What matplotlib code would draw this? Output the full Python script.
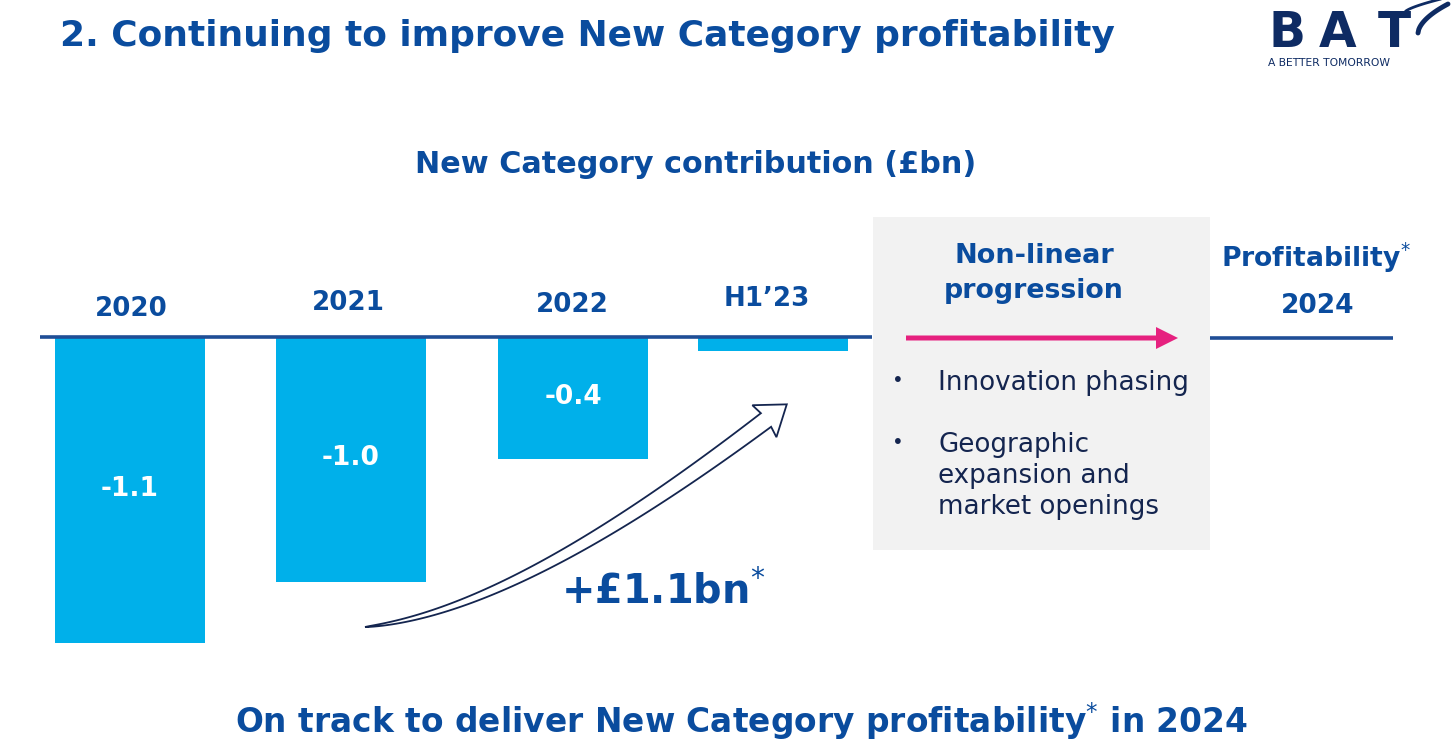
import matplotlib
matplotlib.use("Agg")
import matplotlib.pyplot as plt
import numpy as np
from matplotlib.patches import Rectangle, Polygon, FancyArrow

# ---------------- data ----------------
periods = ["2020", "2021", "2022", "H1\u201923"]
contribution = [-1.1, -0.88, -0.44, -0.05]      # bar heights as drawn (£bn)
value_labels = ["-1.1", "-1.0", "-0.4", ""]
drivers = ["Innovation phasing", "Geographic\nexpansion and\nmarket openings"]

# ---------------- layout ----------------
slots = [0.0, 1.031, 2.067, 3.0]   # horizontal slot of each period (slide spacing)

# ---------------- colours ----------------
NAVY = "#0A4C9E"
DARK = "#14254F"
BAR = "#00B0EA"
LINE = "#1F4E96"
PINK = "#E6217F"
GREY = "#F2F2F2"
LOGO = "#0E2B63"

W, H = 1456, 745
fig = plt.figure(figsize=(W / 100, H / 100), dpi=100)
fig.patch.set_facecolor("white")

# ---------------- bar axes ----------------
ax = fig.add_axes([40 / W, (H - 660) / H, 832 / W, 360 / H])
ax.axis("off")
ax.bar(slots, contribution, width=0.70, color=BAR, zorder=1)
ax.set_xlim(-0.42, 3.462)
ax.set_ylim(-(660 - 337) / 278.2, (337 - 300) / 278.2)
ax.axhline(0, color=LINE, lw=2.6, zorder=3)
for xi, v, lab in zip(slots, contribution, value_labels):
    if lab:
        ax.text(xi, v / 2 + 0.005, lab, ha="center", va="center", color="white",
                fontsize=19, fontweight="bold")

# ---------------- overlay (annotation layer) ----------------
ov = fig.add_axes([0, 0, 1, 1], zorder=5)
ov.set_xlim(0, W)
ov.set_ylim(H, 0)
ov.axis("off")
renderer = fig.canvas.get_renderer()


def fit(xp, yp, s, width, ha="center", va="baseline", **kw):
    t = ov.text(xp, yp, s, ha=ha, va=va, fontsize=20, **kw)
    w = t.get_window_extent(renderer).width
    t.set_fontsize(20 * width / w)
    return t


# title
fit(60, 46, "2. Continuing to improve New Category profitability", 1057, ha="left",
    color=NAVY, fontweight="bold")
# subtitle
fit(696, 173, "New Category contribution (£bn)", 562, color=NAVY, fontweight="bold")

# period labels
year_pos = [(131, 316), (348, 310), (572, 312), (767, 306)]
ref = fit(131, 316, periods[0], 73, color=NAVY, fontweight="bold")
fs_year = ref.get_fontsize()
for (xp, yp), p in list(zip(year_pos, periods))[1:]:
    ov.text(xp, yp, p, ha="center", va="baseline", fontsize=fs_year, color=NAVY,
            fontweight="bold")

# grey box
ov.add_patch(Rectangle((873, 217), 337, 333, facecolor=GREY, edgecolor="none", zorder=0))
fit(1034, 263, "Non-linear", 160, color=NAVY, fontweight="bold")
fit(1034, 298, "progression", 180, color=NAVY, fontweight="bold")
ov.add_patch(FancyArrow(906, 338, 272, 0, width=5, head_width=22, head_length=22,
                        length_includes_head=True, color=PINK, lw=0))
b1 = fit(938, 390, drivers[0], 250, ha="left", color=DARK)
fs_b = b1.get_fontsize()
ov.text(898, 381, "\u2022", ha="center", va="center", fontsize=fs_b * 0.75, color=DARK)
ov.text(898, 443, "\u2022", ha="center", va="center", fontsize=fs_b * 0.75, color=DARK)
for i, line in enumerate(drivers[1].split("\n")):
    ov.text(938, 452 + 31 * i, line, ha="left", va="baseline", fontsize=fs_b, color=DARK)

# right side
fit(1316, 267, "Profitability$^{*}$", 190, color=NAVY, fontweight="bold")
fit(1318, 313, "2024", 74, color=NAVY, fontweight="bold")
ov.plot([1210, 1393], [338, 338], color=LINE, lw=2.6, solid_capstyle="butt")

# hollow curved arrow
P = np.array([[365, 627], [480, 615], [620, 530], [766, 420]], dtype=float)
t = np.linspace(0, 1, 80)[:, None]
c = ((1 - t) ** 3) * P[0] + 3 * ((1 - t) ** 2) * t * P[1] + 3 * (1 - t) * t ** 2 * P[2] + t ** 3 * P[3]
d = 3 * ((1 - t) ** 2) * (P[1] - P[0]) + 6 * (1 - t) * t * (P[2] - P[1]) + 3 * t ** 2 * (P[3] - P[2])
d = d / np.linalg.norm(d, axis=1, keepdims=True)
n = np.column_stack([-d[:, 1], d[:, 0]])
hw = 8.5 * t[:, 0] ** 0.7
upper = c + n * hw[:, None]
lower = c - n * hw[:, None]
de, ne = d[-1], n[-1]
base = c[-1]
tip = base + de * 26
barb1 = base + ne * 20 - de * 2
barb2 = base - ne * 20 - de * 2
pts = np.vstack([upper, barb1, tip, barb2, lower[::-1]])
ov.add_patch(Polygon(pts, closed=True, facecolor="white", edgecolor=DARK, lw=1.3, zorder=4))

fit(663, 603, "+£1.1bn$^{*}$", 205, color=NAVY, fontweight="bold")

# bottom line
fit(741, 733, "On track to deliver New Category profitability$^{*}$ in 2024", 1012,
    color=NAVY, fontweight="bold")

# logo
for letter, lx in zip("BAT", [1287, 1338, 1394]):
    ov.text(lx, 47, letter, ha="center", va="baseline", fontsize=35, color=LOGO,
            fontweight="bold")
fit(1329, 66, "A BETTER TOMORROW", 123, color=LOGO)
s = np.linspace(0, 1, 40)
ov.plot(1418 + 30 * s, 33 - 33 * s ** 0.6 + 4 * s, color=LOGO, lw=3.5, solid_capstyle="round")
ov.plot(1405 + 40 * s, 12 - 14 * s ** 0.7, color=LOGO, lw=2.0, solid_capstyle="round")

fig.savefig("out.png", dpi=100, facecolor="white")
